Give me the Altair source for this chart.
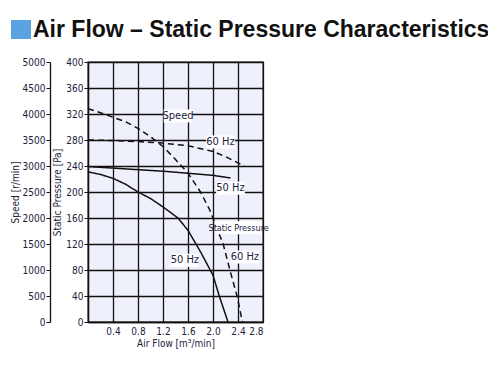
import altair as alt
import pandas as pd

# ---- data ----
sp60_x = [0.0, 0.2, 0.4, 0.6, 0.8, 1.0, 1.2, 1.4, 1.6, 1.8, 1.95, 2.1, 2.16, 2.27, 2.39, 2.47]
sp60_y = [328, 322, 315, 308, 298, 285, 270, 250, 229, 200, 172, 135, 121, 80, 38, 0]

sp50_x = [0.0, 0.2, 0.4, 0.6, 0.8, 1.0, 1.2, 1.44, 1.6, 1.8, 2.0, 2.1, 2.24]
sp50_y = [231, 227, 221, 212, 200, 190, 177, 160, 141, 108, 72, 40, 0]

spd60_x = [0.0, 0.4, 0.8, 1.2, 1.6, 2.0, 2.2, 2.4, 2.5]
spd60_y = [3500, 3490, 3470, 3440, 3390, 3280, 3180, 3060, 3000]

spd50_x = [0.0, 0.4, 0.8, 1.2, 1.6, 2.0, 2.28]
spd50_y = [2990, 2960, 2930, 2900, 2860, 2820, 2770]

label_text = ["Speed", "60 Hz", "50 Hz", "Static Pressure", "60 Hz", "50 Hz"]
label_x = [1.44, 2.12, 2.28, 2.41, 2.51, 1.55]
label_y = [317, 277, 206, 145, 100, 95]
label_w = [0.46, 0.46, 0.46, 0.74, 0.44, 0.44]
label_size = [11, 11, 11, 9, 11, 11]

x_ticks = [0, 0.4, 0.8, 1.2, 1.6, 2.0, 2.4, 2.8]
p_ticks = list(range(0, 401, 40))
s_ticks = list(range(0, 5001, 500))

title_text = "Air Flow – Static Pressure Characteristics"

# ---- tables ----
press = pd.DataFrame(
    [{"x": a, "y": b, "s": "60"} for a, b in zip(sp60_x, sp60_y)]
    + [{"x": a, "y": b, "s": "50"} for a, b in zip(sp50_x, sp50_y)]
)
speed = pd.DataFrame(
    [{"x": a, "y": b, "s": "60"} for a, b in zip(spd60_x, spd60_y)]
    + [{"x": a, "y": b, "s": "50"} for a, b in zip(spd50_x, spd50_y)]
)
labels = pd.DataFrame({"t": label_text, "x": label_x, "y": label_y,
                       "w": label_w, "fs": label_size})
labels["x1"] = labels["x"] - labels["w"] / 2
labels["x2"] = labels["x"] + labels["w"] / 2
labels["y1"] = labels["y"] - 10
labels["y2"] = labels["y"] + 10

FONT = "DejaVu Sans Condensed, Roboto, Liberation Sans, sans-serif"
TXT = "#1c1c3c"
INK = "#141010"
FS = 10

xscale = alt.Scale(domain=[0, 2.8], nice=False, zero=False)
pscale = alt.Scale(domain=[0, 400], nice=False)
sscale = alt.Scale(domain=[0, 5000], nice=False)

xaxis = alt.Axis(values=x_ticks, grid=True, gridColor=INK, gridWidth=1.3, gridOpacity=1,
                 ticks=False, domainColor=INK, domainWidth=1.3,
                 labelExpr="datum.value == 0 ? '' : format(datum.value, '.1f')",
                 labelFont=FONT, labelFontSize=FS, labelColor=TXT, labelPadding=4,
                 title="Air Flow [m³/min]", titleFont=FONT, titleFontSize=FS,
                 titleFontWeight="normal", titleColor=TXT, titlePadding=2)
x_enc = alt.X("x:Q", scale=xscale, axis=xaxis)

paxis = alt.Axis(values=p_ticks, grid=True, gridColor=INK, gridWidth=1.3, gridOpacity=1,
                 tickColor=INK, tickSize=4, domainColor=INK, domainWidth=1.3,
                 format="d",
                 labelFont=FONT, labelFontSize=FS, labelColor=TXT, labelPadding=1,
                 title="Static Pressure [Pa]", titleFont=FONT, titleFontSize=FS,
                 titleFontWeight="normal", titleColor=TXT, titlePadding=3)
saxis = alt.Axis(values=s_ticks, grid=False, orient="left", offset=38,
                 tickColor=INK, tickSize=4, domainColor=INK, domainWidth=1.3,
                 format="d",
                 labelFont=FONT, labelFontSize=FS, labelColor=TXT, labelPadding=1,
                 title="Speed [r/min]", titleFont=FONT, titleFontSize=FS,
                 titleFontWeight="normal", titleColor=TXT, titlePadding=2)

dash = alt.condition(alt.datum.s == "60", alt.value([6, 4]), alt.value([1, 0]))

press_lines = alt.Chart(press).mark_line(color=INK, strokeWidth=1.5).encode(
    x=x_enc, y=alt.Y("y:Q", scale=pscale, axis=paxis),
    detail="s:N", strokeDash=dash)

speed_lines = alt.Chart(speed).mark_line(color=INK, strokeWidth=1.5).encode(
    x=x_enc, y=alt.Y("y:Q", scale=sscale, axis=saxis),
    detail="s:N", strokeDash=dash)

boxes = alt.Chart(labels).mark_rect(color="white").encode(
    x=alt.X("x1:Q", scale=xscale, axis=xaxis), x2="x2:Q",
    y=alt.Y("y1:Q", scale=pscale, axis=None), y2="y2:Q")

texts = alt.Chart(labels).mark_text(font=FONT, color=TXT).encode(
    x=x_enc, y=alt.Y("y:Q", scale=pscale, axis=None),
    text="t:N", size=alt.Size("fs:Q", scale=None, legend=None))

icon = alt.Chart(pd.DataFrame({"a": [0]})).mark_rect(color="#5aa2e2").encode(
    x=alt.value(-77), x2=alt.value(-57), y=alt.value(-42), y2=alt.value(-23))

title = alt.Chart(pd.DataFrame({"t": [title_text]})).mark_text(
    font="Liberation Sans", fontSize=23, fontWeight="bold", color="#111111",
    align="left", baseline="alphabetic").encode(
    text="t:N", x=alt.value(-55), y=alt.value(-25))

chart = alt.layer(press_lines, boxes, speed_lines, texts, icon, title).resolve_scale(
    y="independent"
).properties(
    width=175, height=260,
    autosize=alt.AutoSizeParams(type="none"),
    padding={"left": 80, "top": 54, "right": 225, "bottom": 45},
).configure_view(fill="#eef0fb", stroke=INK, strokeWidth=1.3)

chart.save("out.html", embed_options={"renderer": "svg", "actions": False})
